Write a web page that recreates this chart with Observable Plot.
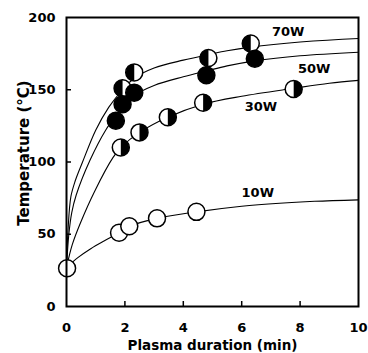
<!DOCTYPE html>
<html><head><meta charset="utf-8">
<script src="https://cdn.jsdelivr.net/npm/d3@7"></script>
<script src="https://cdn.jsdelivr.net/npm/@observablehq/plot@0.6"></script>
<style>body{margin:0;background:#fff} svg{display:block}</style>
</head><body><div id="chart"></div>
<script>
// ---- data ----
const xTicks = [0, 2, 4, 6, 8, 10];
const yTicks = [0, 50, 100, 150, 200];
const xTitle = "Plasma duration (min)";
const yTitle = "Temperature (°C)";

const powers = ["70W", "50W", "30W", "10W"];

// measured points
const m70x = [1.92, 2.32, 4.86, 6.31];
const m70y = [151, 162, 172, 182];
const m50x = [1.69, 1.92, 2.32, 4.79, 6.45];
const m50y = [128.5, 140, 148, 160, 171.5];
const m30x = [1.86, 2.5, 3.47, 4.68, 7.78];
const m30y = [110, 120.5, 131, 141, 150.5];
const m10x = [0.02, 1.8, 2.15, 3.1, 4.45];
const m10y = [26.5, 51, 55.5, 61, 65.5];

// fitted curves
const c70x = [0, 0.05, 0.15, 0.3, 0.55, 1.0, 1.45, 1.92, 2.32, 3, 4, 4.9, 5.5, 6.3, 8, 10];
const c70y = [27, 52, 76, 87, 100, 122, 138, 150, 158, 165, 170.5, 174.5, 177, 179.5, 183, 185.5];
const c50x = [0, 0.08, 0.18, 0.33, 0.8, 1.34, 1.69, 1.92, 2.32, 3, 4, 4.79, 5.5, 6.45, 8, 10];
const c50y = [27, 50, 65, 77, 101, 122, 132, 138, 146, 153, 159, 163, 166.5, 170, 173.5, 176];
const c30x = [0, 0.2, 0.48, 0.97, 1.59, 1.86, 2.5, 3.47, 4.68, 6, 7.78, 9, 10];
const c30y = [27, 43, 58, 80, 103, 110, 120.5, 131, 140, 145.5, 151, 154.5, 156.5];
const c10x = [0, 0.4, 0.83, 1.3, 1.8, 2.15, 3.1, 4.45, 6, 7.3, 8.5, 10];
const c10y = [27, 34, 40, 45.5, 51, 55.5, 61, 65.5, 69.4, 71.5, 72.8, 73.8];

// series labels (data coordinates)
const labelX = [7.59, 8.48, 6.66, 6.55];
const labelY = [190, 164.6, 138, 79];

// ---- build tables ----
const curves = [[c70x, c70y], [c50x, c50y], [c30x, c30y], [c10x, c10y]];
const curveRows = curves.flatMap(([xs, ys], k) => xs.map((x, i) => ({power: powers[k], x, y: ys[i]})));
const marks4 = [[m70x, m70y], [m50x, m50y], [m30x, m30y], [m10x, m10y]];
const pointRows = marks4.flatMap(([xs, ys], k) => xs.map((x, i) => ({power: powers[k], x, y: ys[i]})));
const labelRows = powers.map((p, i) => ({p, x: labelX[i], y: labelY[i]}));

const leftHalf = {draw(ctx, size) { const r = Math.sqrt(size / Math.PI); ctx.moveTo(0, -r); ctx.arc(0, 0, r, -Math.PI / 2, Math.PI / 2, true); ctx.closePath(); }};
const rightHalf = {draw(ctx, size) { const r = Math.sqrt(size / Math.PI); ctx.moveTo(0, -r); ctx.arc(0, 0, r, -Math.PI / 2, Math.PI / 2, false); ctx.closePath(); }};

const W = 368, H = 353, mL = 66, mR = 10, mT = 17, mB = 47;
const iw = W - mL - mR, ih = H - mT - mB;
const R = 8.5;

const chart = Plot.plot({
  width: W, height: H,
  marginLeft: mL, marginRight: mR, marginTop: mT, marginBottom: mB,
  style: "font-family: 'DejaVu Sans', sans-serif; font-weight: bold; font-size: 13px; color: black; background: white; overflow: visible;",
  x: {domain: [0, 10]},
  y: {domain: [0, 200]},
  marks: [
    Plot.line(curveRows, {x: "x", y: "y", z: "power", curve: "catmull-rom", stroke: "black", strokeWidth: 1.1}),
    Plot.dot(pointRows, {x: "x", y: "y", r: R, fill: d => d.power === "50W" ? "black" : "white", stroke: "black", strokeWidth: 1.5}),
    Plot.dot(pointRows.filter(d => d.power === "70W"), {x: "x", y: "y", r: R, symbol: leftHalf, fill: "black", stroke: "none"}),
    Plot.dot(pointRows.filter(d => d.power === "30W"), {x: "x", y: "y", r: R, symbol: rightHalf, fill: "black", stroke: "none"}),
    Plot.text(labelRows, {x: "x", y: "y", text: "p", fontSize: 13, fontWeight: "bold", fill: "black"}),
    Plot.frame({stroke: "black", strokeWidth: 2}),
    Plot.tickX(xTicks.slice(1, -1), {x: d => d, insetTop: ih - 5, stroke: "black", strokeWidth: 1.5}),
    Plot.tickY(yTicks.slice(1, -1), {y: d => d, insetRight: iw - 5, stroke: "black", strokeWidth: 1.5}),
    Plot.axisX(xTicks, {tickSize: 0, tickPadding: 16, label: null, fontSize: 13, fontWeight: "bold"}),
    Plot.axisY(yTicks, {tickSize: 0, tickPadding: 11, label: null, fontSize: 13, fontWeight: "bold"}),
    Plot.text([xTitle], {text: d => d, frameAnchor: "bottom", textAnchor: "middle", lineAnchor: "middle", dy: 39, fontSize: 13.5, fontWeight: "bold"}),
    Plot.text([yTitle], {text: d => d, frameAnchor: "left", textAnchor: "middle", lineAnchor: "middle", rotate: -90, dx: -42, dy: -9, fontSize: 15, fontWeight: "bold"})
  ]
});
document.getElementById("chart").appendChild(chart);
</script>
</body></html>
